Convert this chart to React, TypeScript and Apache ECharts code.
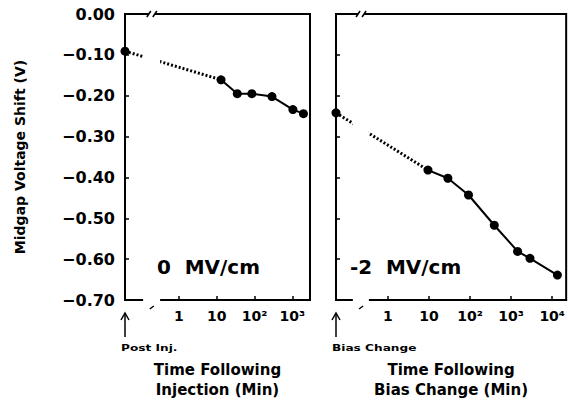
import React, { useEffect, useRef } from "react";
import * as echarts from "echarts";

// ---- data ----
const yTickValues = [0, -0.1, -0.2, -0.3, -0.4, -0.5, -0.6, -0.7];
const leftDecades = [0, 1, 2, 3];
const leftDecadeLabels = ["1", "10", "10²", "10³"];
const rightDecades = [0, 1, 2, 3, 4];
const rightDecadeLabels = ["1", "10", "10²", "10³", "10⁴"];

// Time following injection (min) vs midgap voltage shift (V), 0 MV/cm
const leftTimes = [13, 35, 85, 290, 1040, 1980];
const leftShift = [-0.161, -0.195, -0.195, -0.202, -0.234, -0.244];
const postInjShift = -0.091;

// Time following bias change (min) vs midgap voltage shift (V), -2 MV/cm
const rightTimes = [9.5, 29, 92, 390, 1440, 2880, 13400];
const rightShift = [-0.382, -0.402, -0.443, -0.517, -0.581, -0.598, -0.639];
const biasChangeShift = -0.242;

// ---- layout ----
const W = 568;
const H = 405;
const TOP = 14;
const PH = 294;
const L1 = 125, W1 = 185;
const L2 = 336, W2 = 231;
const XMIN1 = -1.43, XMAX1 = 3.47;
const XMIN2 = -1.26, XMAX2 = 4.34;
const FONT = "DejaVu Sans";

const fmtY = (v: number) => {
  const s = Math.abs(v).toFixed(2);
  return Math.abs(v) < 1e-9 ? "0.00" : "\u2212" + s;
};

export default function App() {
  const ref = useRef<HTMLDivElement>(null);
  useEffect(() => {
    if (!ref.current) return;
    const chart = echarts.init(ref.current, null, { renderer: "svg" });

    const gridCommon = { show: true, borderColor: "#000", borderWidth: 2, backgroundColor: "transparent", containLabel: false };
    const axisLineStyle = { color: "#000", width: 2 };
    const makeX = (gi: number, min: number, max: number, decs: number[], labels: string[], name: string) => ({
      type: "value", gridIndex: gi, min, max,
      splitLine: { show: false },
      axisLine: { show: true, onZero: false, lineStyle: axisLineStyle },
      axisTick: { show: true, inside: true, length: 4, customValues: decs, lineStyle: { color: "#000", width: 1.5 } },
      axisLabel: {
        show: true, customValues: decs, margin: 9,
        formatter: (v: number) => labels[decs.indexOf(Math.round(v))] ?? "",
        color: "#000", fontFamily: FONT, fontWeight: "bold", fontSize: 14,
      },
      name, nameLocation: "middle", nameGap: 60,
      nameTextStyle: { color: "#000", fontFamily: FONT, fontWeight: "bold", fontSize: 15, lineHeight: 20 },
    });
    const makeY = (gi: number, showLabels: boolean) => ({
      type: "value", gridIndex: gi, min: -0.7, max: 0, interval: 0.1,
      splitLine: { show: false },
      axisLine: { show: true, onZero: false, lineStyle: axisLineStyle },
      axisTick: { show: true, inside: true, length: 4, lineStyle: { color: "#000", width: 1.5 } },
      axisLabel: {
        show: showLabels, margin: 10, formatter: fmtY,
        color: "#000", fontFamily: FONT, fontWeight: "bold", fontSize: 16,
      },
      ...(showLabels
        ? {
            name: "Midgap Voltage Shift (V)", nameLocation: "middle", nameGap: 98, nameRotate: 90,
            nameTextStyle: { color: "#000", fontFamily: FONT, fontWeight: "bold", fontSize: 14 },
          }
        : {}),
    });

    const solid = (xi: number, times: number[], vals: number[]) => ({
      type: "line", xAxisIndex: xi, yAxisIndex: xi,
      data: times.map((t, i) => [Math.log10(t), vals[i]]),
      symbol: "circle", symbolSize: 9,
      itemStyle: { color: "#000" },
      lineStyle: { color: "#000", width: 2 },
      z: 3,
    });
    const dotted = (xi: number, xmin: number, v0: number, t1: number, v1: number) => ({
      type: "line", xAxisIndex: xi, yAxisIndex: xi,
      data: [
        { value: [xmin, v0], symbol: "circle", symbolSize: 9 },
        { value: [Math.log10(t1), v1], symbol: "none" },
      ],
      itemStyle: { color: "#000" },
      lineStyle: { color: "#000", width: 3, type: [2, 2] },
      z: 2,
    });

    const option: any = {
      animation: false,
      backgroundColor: "#fff",
      grid: [
        { ...gridCommon, left: L1, top: TOP, width: W1, height: PH },
        { ...gridCommon, left: L2, top: TOP, width: W2, height: PH },
      ],
      xAxis: [
        makeX(0, XMIN1, XMAX1, leftDecades, leftDecadeLabels, "Time Following\nInjection (Min)"),
        makeX(1, XMIN2, XMAX2, rightDecades, rightDecadeLabels, "Time Following\nBias Change (Min)"),
      ],
      yAxis: [makeY(0, true), makeY(1, false)],
      series: [
        dotted(0, XMIN1, postInjShift, leftTimes[0], leftShift[0]),
        solid(0, leftTimes, leftShift),
        dotted(1, XMIN2, biasChangeShift, rightTimes[0], rightShift[0]),
        solid(1, rightTimes, rightShift),
      ],
    };
    chart.setOption(option);

    // decorations: axis breaks, gaps in dotted lines, arrows, labels
    const px = (gi: number, x: number) => (chart.convertToPixel({ gridIndex: gi } as any, [x, 0]) as number[])[0];
    const g: any[] = [];
    const panels = [
      { gi: 0, left: L1, brk: -0.72, gapLo: -0.95, gapHi: -0.5, note: "Post Inj.", field: "0  MV/cm", fieldX: 157 },
      { gi: 1, left: L2, brk: -0.65, gapLo: -0.85, gapHi: -0.46, note: "Bias Change", field: "-2  MV/cm", fieldX: 350 },
    ];
    const bottom = TOP + PH;
    panels.forEach((p) => {
      const a = px(p.gi, p.gapLo), b = px(p.gi, p.gapHi), bx = px(p.gi, p.brk);
      g.push({ type: "rect", z: 100, shape: { x: a, y: TOP + 4, width: b - a, height: PH - 8 }, style: { fill: "#fff" } });
      // top break //
      g.push({ type: "rect", z: 100, shape: { x: bx - 3, y: TOP - 2, width: 6, height: 4 }, style: { fill: "#fff" } });
      g.push({ type: "line", z: 101, shape: { x1: bx - 5, y1: TOP + 3, x2: bx - 1, y2: TOP - 3 }, style: { stroke: "#000", lineWidth: 1.5 } });
      g.push({ type: "line", z: 101, shape: { x1: bx + 1, y1: TOP + 3, x2: bx + 5, y2: TOP - 3 }, style: { stroke: "#000", lineWidth: 1.5 } });
      // bottom break /
      g.push({ type: "rect", z: 100, shape: { x: bx - 2, y: bottom - 2, width: 4, height: 4 }, style: { fill: "#fff" } });
      g.push({ type: "line", z: 101, shape: { x1: bx - 2, y1: bottom + 1, x2: bx + 2, y2: bottom - 2 }, style: { stroke: "#000", lineWidth: 1.5 } });
      // arrow
      g.push({ type: "line", z: 101, shape: { x1: p.left, y1: 337, x2: p.left, y2: 313 }, style: { stroke: "#000", lineWidth: 1.5 } });
      g.push({ type: "polyline", z: 101, shape: { points: [[p.left - 4, 320], [p.left, 313], [p.left + 4, 320]] }, style: { stroke: "#000", lineWidth: 1.5, fill: "none" } });
      g.push({ type: "text", z: 101, x: p.left - 4, y: 348, style: { text: p.note, fill: "#000", font: `bold 9px "${FONT}"`, verticalAlign: "middle", align: "left" }, scaleX: 1.35 });
      g.push({ type: "text", z: 101, x: p.fieldX, y: 268, style: { text: p.field, fill: "#000", font: `bold 19px "${FONT}"`, verticalAlign: "middle", align: "left" }, scaleX: 1.05 });
    });
    chart.setOption({ graphic: g });

    return () => chart.dispose();
  }, []);
  return <div ref={ref} style={{ position: "absolute", left: 0, top: 0, width: W, height: H }} />;
}
